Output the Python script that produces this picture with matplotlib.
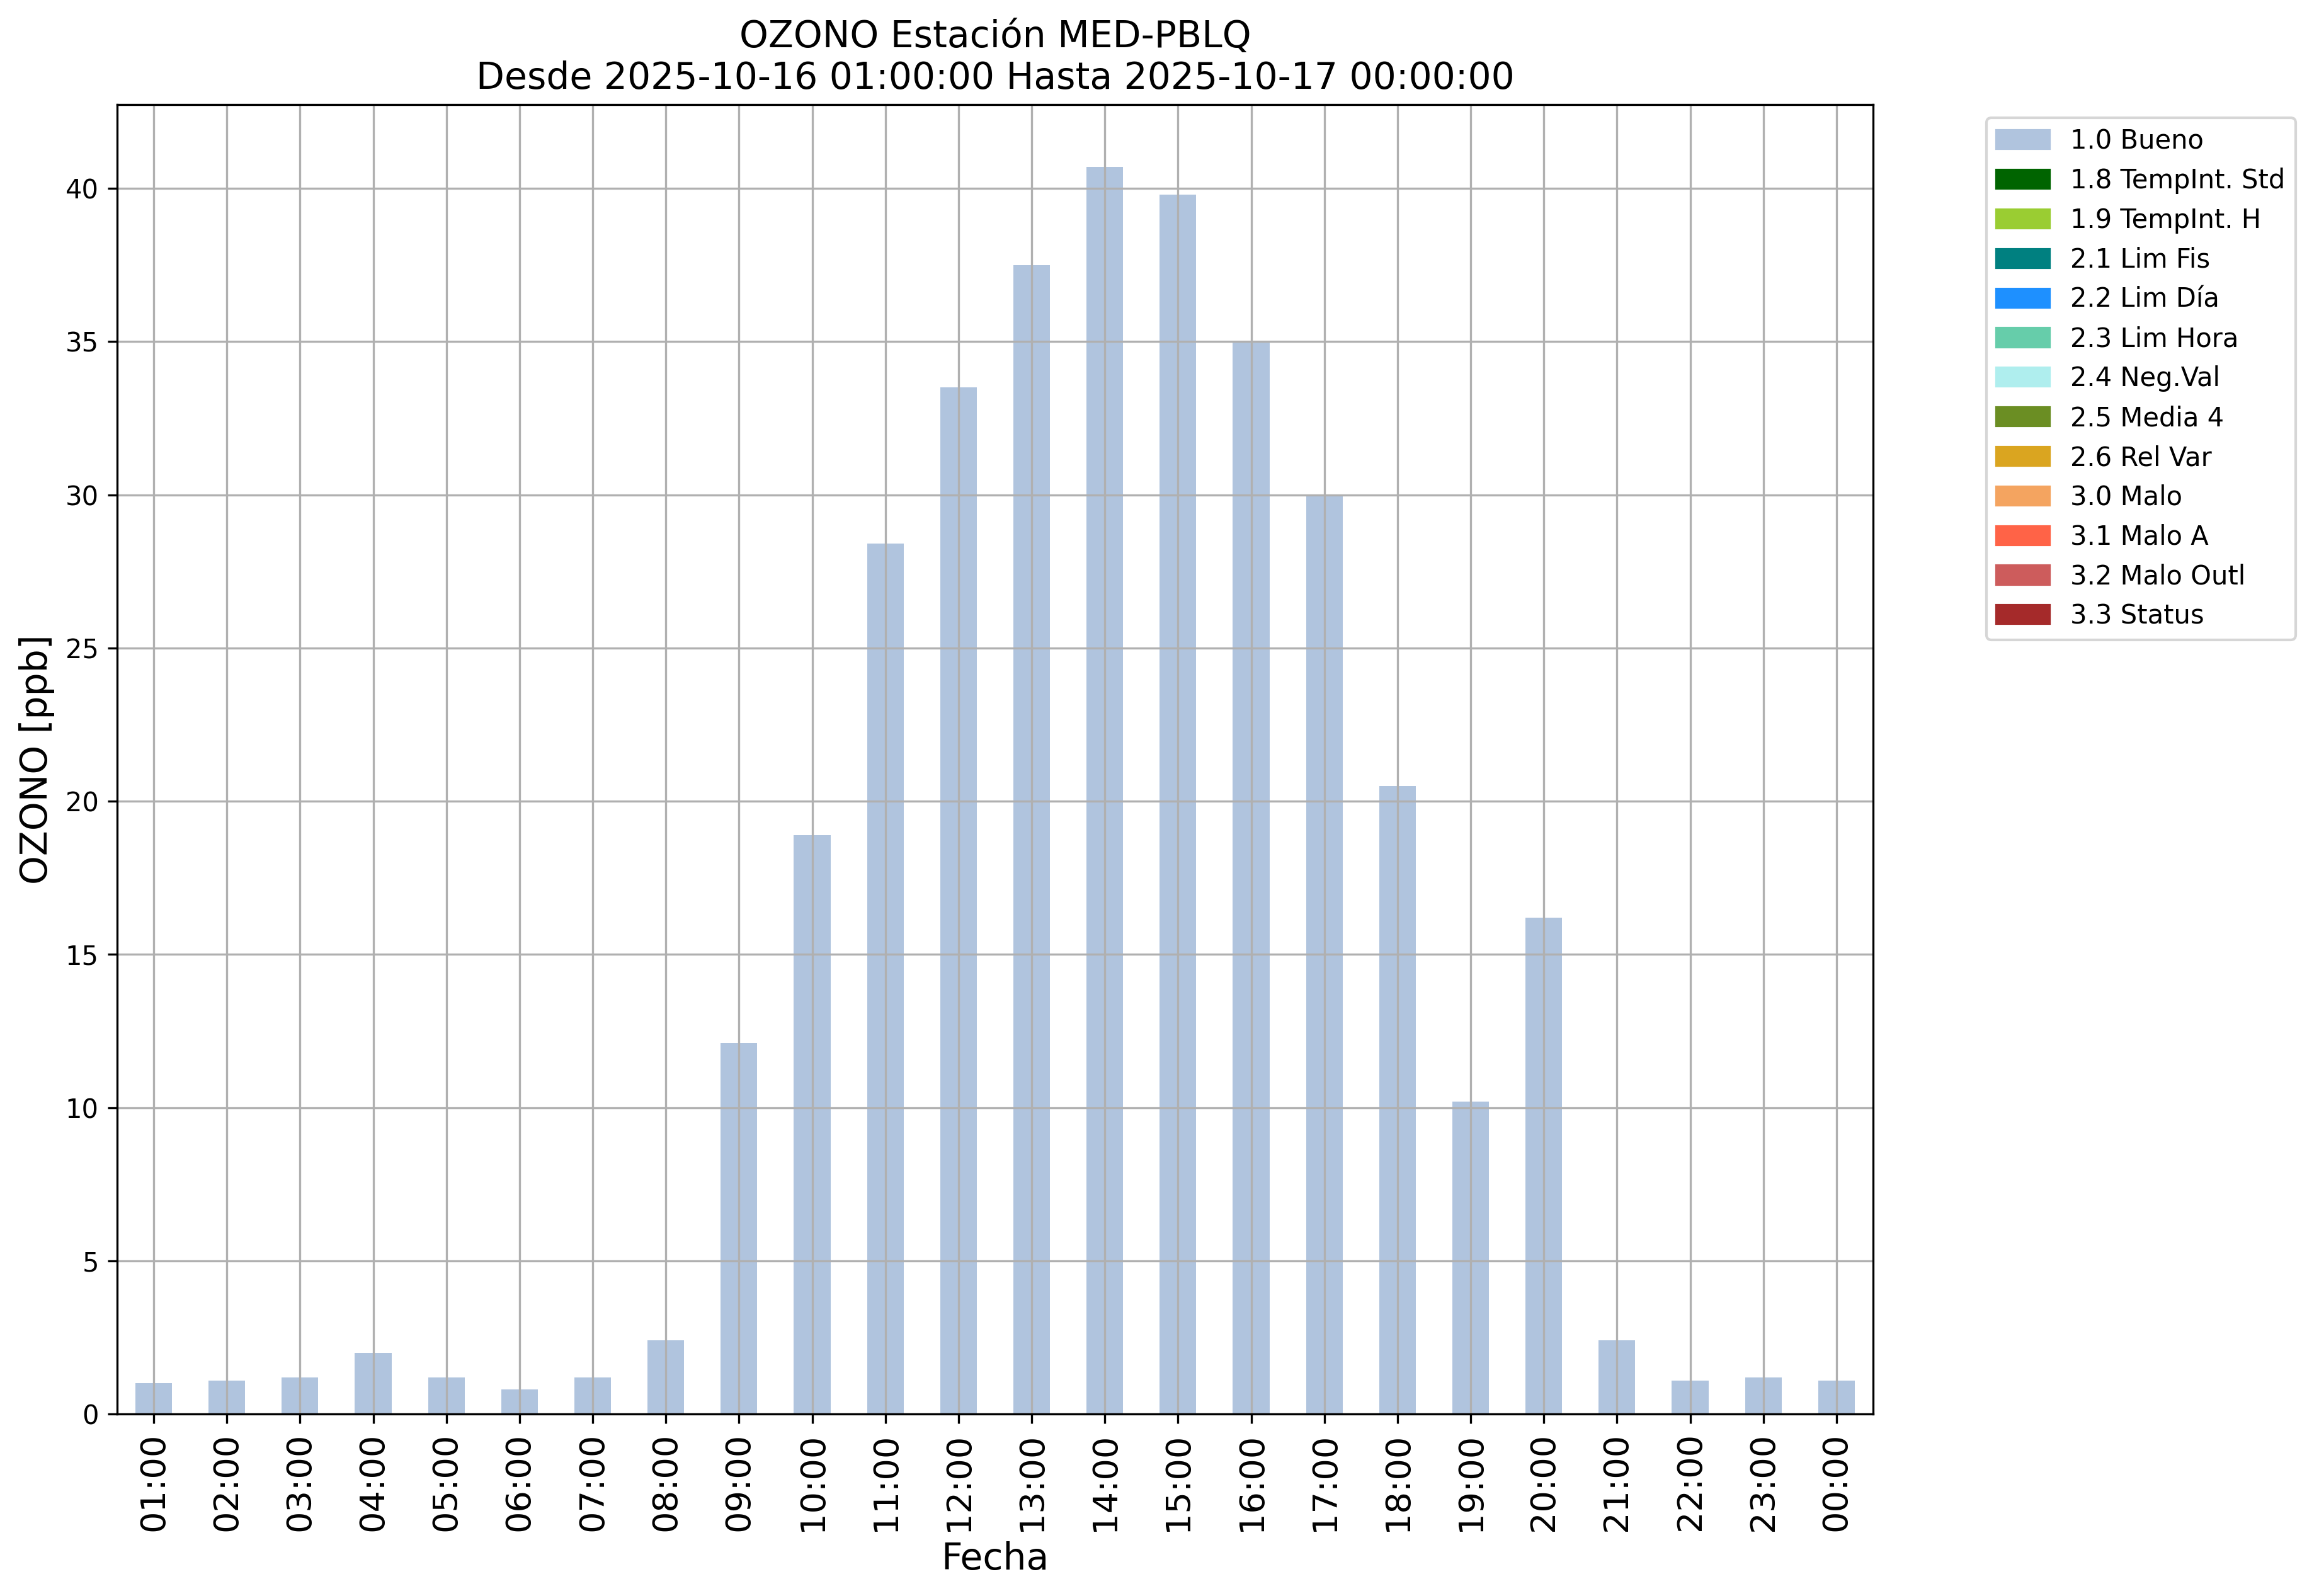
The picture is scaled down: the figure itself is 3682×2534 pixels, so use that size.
import matplotlib
matplotlib.use("Agg")
import matplotlib.pyplot as plt
import matplotlib.patches as mpatches

# Datos de ozono por hora (ppb)
horas = ["01:00", "02:00", "03:00", "04:00", "05:00", "06:00", "07:00", "08:00",
         "09:00", "10:00", "11:00", "12:00", "13:00", "14:00", "15:00", "16:00",
         "17:00", "18:00", "19:00", "20:00", "21:00", "22:00", "23:00", "00:00"]
ozono = [1.0, 1.1, 1.2, 2.0, 1.2, 0.8, 1.2, 2.4,
         12.1, 18.9, 28.4, 33.5, 37.5, 40.7, 39.8, 35.0,
         30.0, 20.5, 10.2, 16.2, 2.4, 1.1, 1.2, 1.1]

# Banderas de calidad para la leyenda
etiquetas = ["1.0 Bueno", "1.8 TempInt. Std", "1.9 TempInt. H", "2.1 Lim Fis",
             "2.2 Lim Día", "2.3 Lim Hora", "2.4 Neg.Val", "2.5 Media 4",
             "2.6 Rel Var", "3.0 Malo", "3.1 Malo A", "3.2 Malo Outl", "3.3 Status"]
colores = ["lightsteelblue", "darkgreen", "yellowgreen", "teal",
           "dodgerblue", "mediumaquamarine", "paleturquoise", "olivedrab",
           "goldenrod", "sandybrown", "tomato", "indianred", "brown"]

fig = plt.figure(figsize=(3682 / 300, 2534 / 300), dpi=300)
ax = fig.add_axes([0.0505, 0.114, 0.8077 - 0.0505, 0.9345 - 0.114])

x = range(len(horas))
ax.bar(x, ozono, width=0.5, color=colores[0])
ax.set_xlim(-0.5, len(horas) - 0.5)
ax.set_ylim(0, max(ozono) * 1.05)
ax.set_xticks(list(x))
ax.set_xticklabels(horas, rotation=90, fontsize=13)
ax.tick_params(axis="y", labelsize=10)
ax.grid(True)

ax.set_xlabel("Fecha", fontsize=14)
ax.set_ylabel("OZONO [ppb]", fontsize=14)
ax.set_title("OZONO Estación MED-PBLQ\nDesde 2025-10-16 01:00:00 Hasta 2025-10-17 00:00:00",
             fontsize=14)

parches = [mpatches.Patch(color=c, label=l) for c, l in zip(colores, etiquetas)]
ax.legend(handles=parches, bbox_to_anchor=(1.057, 1), loc="upper left", fontsize=10)

fig.savefig("out.png", dpi=300)
